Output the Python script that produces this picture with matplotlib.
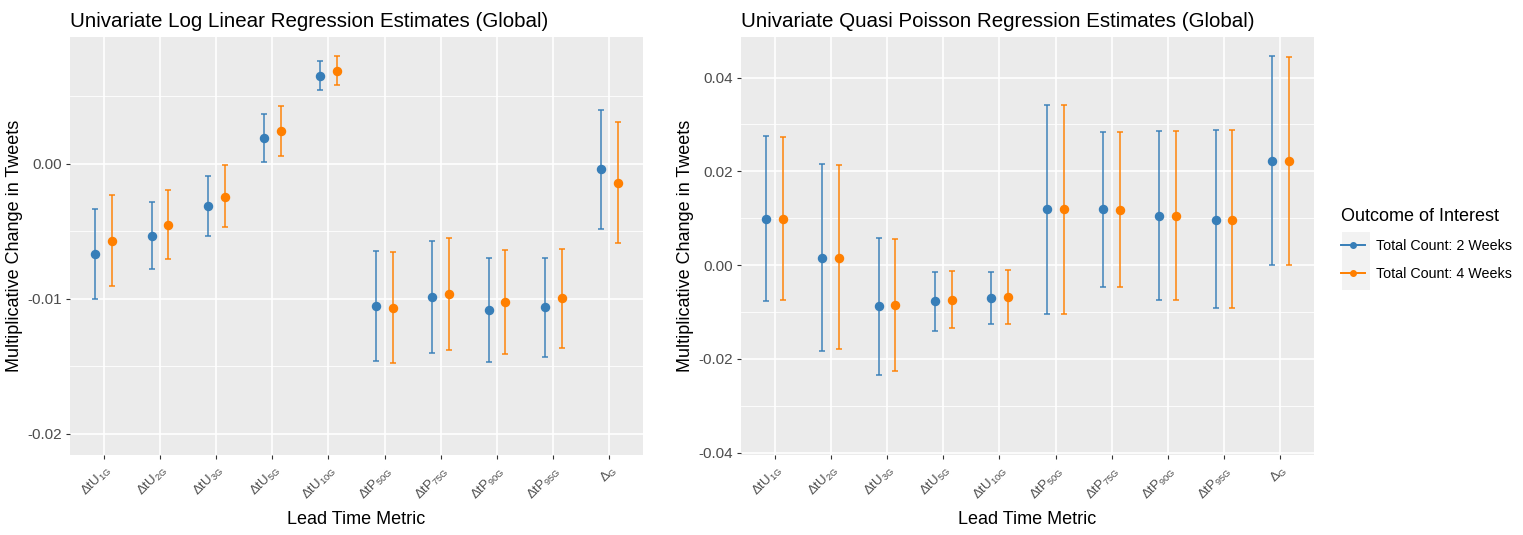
import numpy as np
import matplotlib
matplotlib.use("Agg")
import matplotlib.pyplot as plt
from matplotlib.lines import Line2D
from matplotlib.patches import Rectangle

plt.rcParams['font.family'] = ['Liberation Sans', 'DejaVu Sans']
plt.rcParams['mathtext.default'] = 'regular'

# lead time metrics on the x axis
metrics = [r'$\Delta tU_{1G}$', r'$\Delta tU_{2G}$', r'$\Delta tU_{3G}$', r'$\Delta tU_{5G}$',
           r'$\Delta tU_{10G}$', r'$\Delta tP_{50G}$', r'$\Delta tP_{75G}$', r'$\Delta tP_{90G}$',
           r'$\Delta tP_{95G}$', r'$\Delta_G$']

outcomes = ['Total Count: 2 Weeks', 'Total Count: 4 Weeks']

# log linear model: estimate, lower, upper
loglin_est_2w = [-0.00669, -0.00533, -0.00316, 0.00190, 0.00652, -0.01054, -0.00985, -0.01084, -0.01064, -0.00042]
loglin_lo_2w = [-0.01004, -0.00782, -0.00536, 0.00013, 0.00543, -0.01461, -0.01400, -0.01469, -0.01435, -0.00486]
loglin_hi_2w = [-0.00338, -0.00281, -0.00093, 0.00368, 0.00761, -0.00644, -0.00570, -0.00699, -0.00701, 0.00400]

loglin_est_4w = [-0.00570, -0.00452, -0.00244, 0.00242, 0.00687, -0.01069, -0.00968, -0.01025, -0.00997, -0.00141]
loglin_lo_4w = [-0.00906, -0.00704, -0.00467, 0.00057, 0.00580, -0.01479, -0.01382, -0.01407, -0.01363, -0.00585]
loglin_hi_4w = [-0.00232, -0.00195, -0.00012, 0.00427, 0.00800, -0.00657, -0.00550, -0.00639, -0.00634, 0.00311]

# quasi poisson model: estimate, lower, upper
qp_est_2w = [0.00986, 0.00156, -0.00879, -0.00773, -0.00702, 0.01191, 0.01191, 0.01043, 0.00972, 0.02227]
qp_lo_2w = [-0.00773, -0.01830, -0.02340, -0.01404, -0.01263, -0.01043, -0.00468, -0.00752, -0.00922, 0.00000]
qp_hi_2w = [0.02750, 0.02150, 0.00567, -0.00149, -0.00156, 0.03426, 0.02844, 0.02858, 0.02887, 0.04468]

qp_est_4w = [0.00986, 0.00160, -0.00858, -0.00752, -0.00688, 0.01191, 0.01180, 0.01043, 0.00972, 0.02227]
qp_lo_4w = [-0.00752, -0.01790, -0.02255, -0.01348, -0.01260, -0.01043, -0.00468, -0.00752, -0.00908, 0.00000]
qp_hi_4w = [0.02740, 0.02140, 0.00550, -0.00135, -0.00106, 0.03420, 0.02830, 0.02858, 0.02873, 0.04447]

colors = ['#377EB8', '#FF7F00']
dodge = 0.15
bg = '#EBEBEB'
text_grey = '#4D4D4D'


def draw_panel(ax, est, lo, hi, title, yticks, yminor, ylim):
    x = np.arange(len(metrics))
    ax.set_facecolor(bg)
    for k, (e, l, h) in enumerate(zip(est, lo, hi)):
        e, l, h = np.array(e), np.array(l), np.array(h)
        xs = x + (k * 2 - 1) * dodge
        ax.errorbar(xs, e, yerr=[e - l, h - e], fmt='none', ecolor=colors[k],
                    elinewidth=1.4, capsize=2.2, capthick=1.4, alpha=0.75, zorder=3)
        ax.plot(xs, e, 'o', color=colors[k], markersize=5.8, zorder=4)

    ax.set_xlim(-0.6, len(metrics) - 0.4)
    ax.set_ylim(*ylim)
    ax.set_xticks(x)
    ax.set_xticklabels(metrics, rotation=45, ha='right', va='top',
                       rotation_mode='anchor', fontsize=9.5, color=text_grey)
    ax.set_yticks(yticks)
    ax.set_yticklabels([f'{t:.2f}' for t in yticks], fontsize=11, color=text_grey)
    ax.set_yticks(yminor, minor=True)
    ax.tick_params(which='minor', length=0)
    ax.tick_params(which='major', length=3, width=0.8, color='#333333', pad=3)
    ax.grid(True, which='major', color='white', linewidth=1.2)
    ax.grid(True, which='minor', axis='y', color='white', linewidth=0.6)
    ax.set_axisbelow(True)
    for s in ax.spines.values():
        s.set_visible(False)
    ax.set_title(title, loc='left', fontsize=14.8, pad=7)
    ax.set_xlabel('Lead Time Metric', fontsize=13, labelpad=6)
    ax.set_ylabel('Multiplicative Change in Tweets', fontsize=13)


fig = plt.figure(figsize=(15.23, 5.35), dpi=100)
ax1 = fig.add_axes([0.0460, 0.1495, 0.3762, 0.7813])
ax2 = fig.add_axes([0.4865, 0.1495, 0.3762, 0.7813])

draw_panel(ax1, [loglin_est_2w, loglin_est_4w], [loglin_lo_2w, loglin_lo_4w],
           [loglin_hi_2w, loglin_hi_4w],
           'Univariate Log Linear Regression Estimates (Global)',
           [-0.02, -0.01, 0.00], [-0.015, -0.005, 0.005], (-0.02158, 0.00938))

draw_panel(ax2, [qp_est_2w, qp_est_4w], [qp_lo_2w, qp_lo_4w], [qp_hi_2w, qp_hi_4w],
           'Univariate Quasi Poisson Regression Estimates (Global)',
           [-0.04, -0.02, 0.00, 0.02, 0.04], [-0.03, -0.01, 0.01, 0.03], (-0.04053, 0.04866))

ax1.yaxis.set_label_coords(-0.083, 0.5)
ax2.yaxis.set_label_coords(-0.082, 0.5)

# legend with grey key background
fig.patches.append(Rectangle((1342 / 1523, 1 - 290 / 535), 28 / 1523, 58 / 535,
                             transform=fig.transFigure, facecolor='#F2F2F2',
                             edgecolor='none', zorder=0))
handles = [Line2D([0], [0], color=c, marker='o', markersize=4, linewidth=1.4) for c in colors]
leg = fig.legend(handles, outcomes, loc='upper left', bbox_to_anchor=(1335 / 1523, 1 - 202 / 535),
                 title='Outcome of Interest', frameon=False, fontsize=10.3,
                 title_fontsize=13, handlelength=1.7, handletextpad=0.8,
                 labelspacing=1.0, borderaxespad=0)
leg._legend_box.align = 'left'

fig.savefig('out.png', dpi=100)
